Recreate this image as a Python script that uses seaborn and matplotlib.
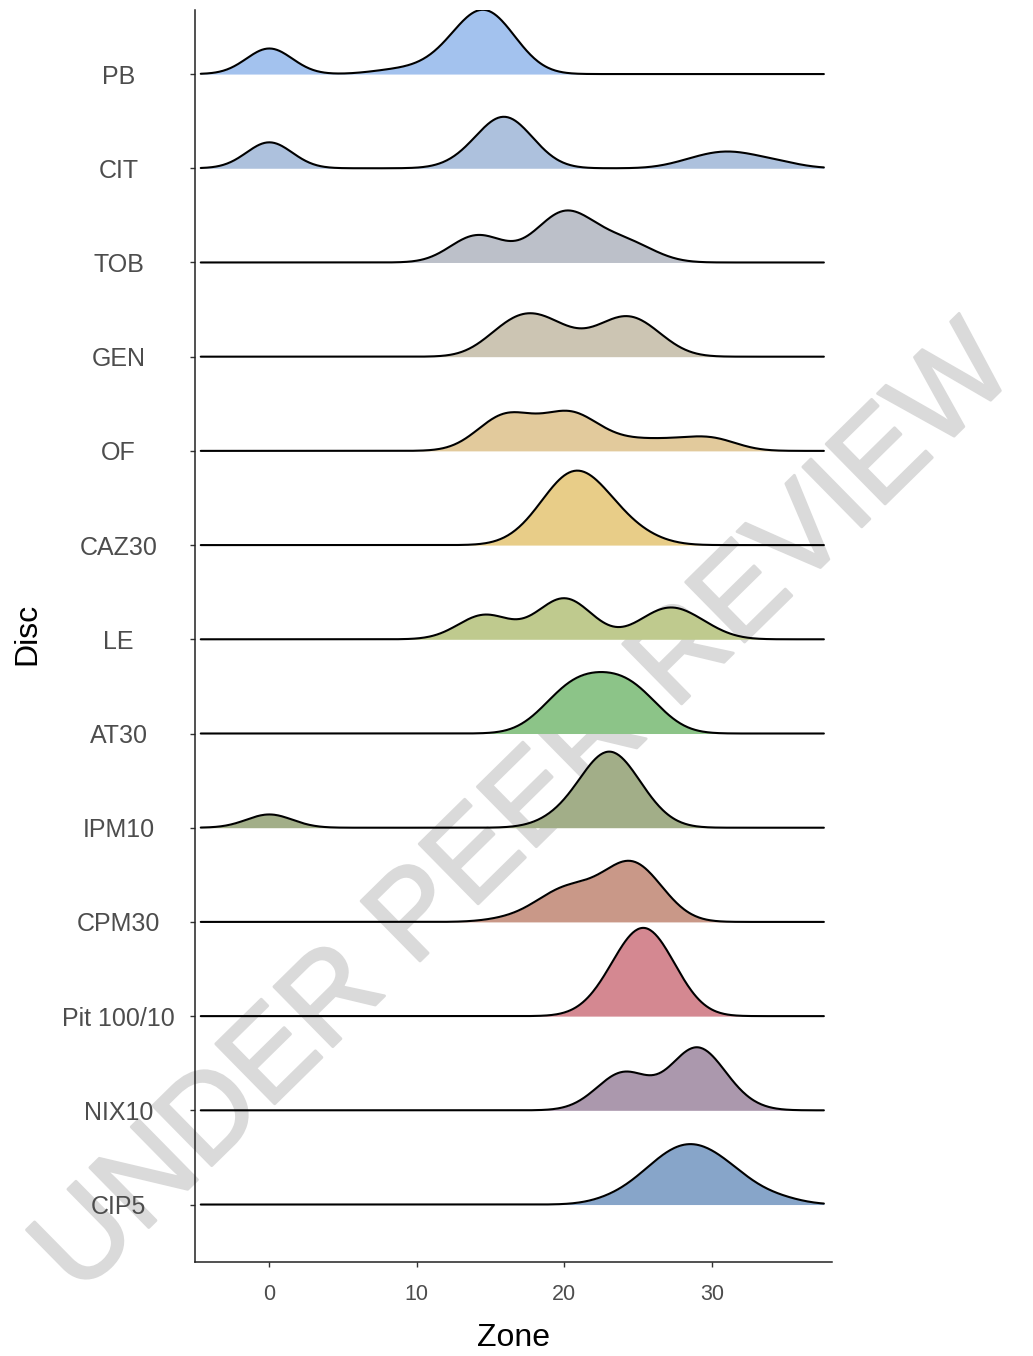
import numpy as np
import pandas as pd
import matplotlib
matplotlib.use("Agg")
import matplotlib.pyplot as plt
import matplotlib.transforms as mtransforms
import matplotlib.patheffects as pe
import seaborn as sns

# inhibition zone diameters (mm) per disc, one value per isolate
discs = ["PB", "CIT", "TOB", "GEN", "OF", "CAZ30", "LE", "AT30",
         "IPM10", "CPM30", "Pit 100/10", "NIX10", "CIP5"]

PB = [0, 0, 0, 0, 0, 0, 0, 0, 0, 8, 10, 11, 12, 12, 13, 13, 13, 13, 13,
      14, 14, 14, 14, 14, 14, 14, 14, 15, 15, 15, 15, 15, 15, 15, 15,
      16, 16, 16, 16, 16, 17, 17]
CIT = [0, 0, 0, 0, 0, 0, 0, 0, 0, 0, 13, 14, 14, 15, 15, 15, 15, 15, 15,
       16, 16, 16, 16, 16, 16, 16, 16, 16, 17, 17, 17, 17, 17, 18, 18,
       28, 29, 30, 30, 31, 31, 32, 32, 33, 34, 35]
TOB = [13, 13, 13, 14, 14, 14, 14, 15, 15, 15, 16, 18, 18, 19, 19, 19, 19, 19,
       20, 20, 20, 20, 20, 20, 20, 21, 21, 21, 21, 21, 22, 22, 22, 23, 23,
       24, 24, 24, 25, 25, 26]
GEN = [15, 15, 16, 16, 16, 16, 17, 17, 17, 17, 17, 18, 18, 18, 18, 18,
       19, 19, 19, 19, 20, 20, 20, 21, 22, 22, 23, 23, 23, 23,
       24, 24, 24, 24, 24, 25, 25, 25, 25, 25, 26, 26, 26, 27]
OF = [14, 15, 15, 15, 16, 16, 16, 16, 16, 17, 17, 17, 18, 18, 19, 19,
      20, 20, 20, 20, 20, 21, 21, 21, 21, 22, 22, 23, 24, 25, 26, 27, 28,
      29, 30, 30, 31]
CAZ30 = [17, 18, 18, 19, 19, 19, 19, 19, 20, 20, 20, 20, 20, 20, 20, 20,
         21, 21, 21, 21, 21, 21, 21, 21, 22, 22, 22, 22, 22, 22, 22,
         23, 23, 23, 23, 24, 24, 24, 25, 26]
LE = [13, 14, 14, 14, 15, 15, 15, 15, 16, 18, 19, 19, 19, 19,
      20, 20, 20, 20, 20, 20, 21, 21, 21, 21, 22, 25, 26, 26, 26,
      27, 27, 27, 27, 28, 28, 28, 29, 29, 30]
AT30 = [18, 19, 19, 19, 20, 20, 20, 20, 20, 20, 21, 21, 21, 21, 21, 21,
        22, 22, 22, 22, 22, 22, 23, 23, 23, 23, 23, 23, 24, 24, 24, 24, 24, 24,
        25, 25, 25, 25, 25, 25, 26, 26, 26, 27]
IPM10 = [0, 0, 0, 0, 0, 19, 20, 20, 21, 21, 21, 22, 22, 22, 22, 22, 22, 22, 22,
         23, 23, 23, 23, 23, 23, 23, 23, 23, 23, 23, 23,
         24, 24, 24, 24, 24, 24, 24, 24, 25, 25, 25, 25, 26, 26]
CPM30 = [16, 18, 18, 19, 19, 19, 20, 20, 20, 20, 20, 21, 21, 21, 21, 22, 22, 22,
         23, 23, 23, 23, 24, 24, 24, 24, 24, 24, 24, 24, 24,
         25, 25, 25, 25, 25, 25, 25, 25, 26, 26, 26, 26, 26, 27, 27]
PIT = [22, 23, 23, 23, 24, 24, 24, 24, 24, 24, 24,
       25, 25, 25, 25, 25, 25, 25, 25, 25, 25, 25,
       26, 26, 26, 26, 26, 26, 26, 26, 26, 26, 27, 27, 27, 27, 27, 27, 28, 28]
NIX10 = [22, 23, 23, 23, 24, 24, 24, 24, 24, 24, 24, 25, 25, 25, 25, 27,
         28, 28, 28, 28, 28, 28, 28, 29, 29, 29, 29, 29, 29, 29, 29, 29, 29,
         30, 30, 30, 30, 30, 30, 31, 31, 32]
CIP5 = [23, 24, 25, 25, 26, 26, 26, 26, 27, 27, 27, 27, 27,
        28, 28, 28, 28, 28, 28, 29, 29, 29, 29, 29, 29, 30, 30, 30, 30, 30,
        31, 31, 31, 31, 32, 32, 32, 33, 34, 35]

zones = [PB, CIT, TOB, GEN, OF, CAZ30, LE, AT30, IPM10, CPM30, PIT, NIX10, CIP5]

colors = ["#a3c2ee", "#adc1dd", "#bcc0c9", "#ccc5b3", "#e2ca9c", "#e8cd88",
          "#bfca8e", "#8cc488", "#a2ae88", "#c99888", "#d48891", "#ab98ad",
          "#87a5c9"]

df = pd.DataFrame({
    "Disc": np.concatenate([[d] * len(z) for d, z in zip(discs, zones)]),
    "Zone": np.concatenate(zones).astype(float),
})

BW = 1.55          # kernel sd, zone units
HEIGHT = 4.92      # row units per unit of density
X_RANGE = (-4.65, 37.6)

sns.set_style("ticks")
plt.rcParams["font.family"] = ["Liberation Sans", "DejaVu Sans"]

fig = plt.figure(figsize=(10.33, 13.56), dpi=100)
ax = fig.add_axes([195 / 1033, 94 / 1356, 636.7 / 1033, 1252 / 1356])
ax.patch.set_visible(False)

n = len(discs)
for i, disc in enumerate(discs):
    offset = n - 1 - i
    vals = df.loc[df["Disc"] == disc, "Zone"]
    tr = mtransforms.Affine2D().scale(1, HEIGHT).translate(0, offset) + ax.transData
    kw = dict(bw_method=BW / vals.std(), cut=30, clip=X_RANGE, gridsize=500,
              transform=tr, ax=ax)
    sns.kdeplot(x=vals, fill=True, color=colors[i], alpha=1, linewidth=0,
                zorder=2 + 2 * i, **kw)
    sns.kdeplot(x=vals, color="black", linewidth=1.5, zorder=3 + 2 * i, **kw)

ax.set_xlim(-5.04, 38.13)
ax.set_ylim(-0.61, 12.68)
ax.set_xticks([0, 10, 20, 30])
ax.set_yticks(range(n))
ax.set_yticklabels(discs[::-1])
for lab in ax.get_yticklabels():
    lab.set_horizontalalignment("center")
ax.set_xlabel("")
ax.set_ylabel("")

ax.tick_params(axis="y", length=3.6, width=1.0, pad=51.5, labelsize=18,
               labelcolor="#4d4d4d", color="#333333")
ax.tick_params(axis="x", length=3.6, width=1.0, pad=12, labelsize=15.5,
               labelcolor="#4d4d4d", color="#333333")
sns.despine(ax=ax)
for side in ["left", "bottom"]:
    ax.spines[side].set_linewidth(1.1)
    ax.spines[side].set_color("#222222")

fig.text(27 / 1033, 1 - 634 / 1356, "Disc", rotation=90, ha="center",
         va="center", fontsize=23, color="black")
fig.text(513 / 1033, 1 - 1338 / 1356, "Zone", ha="center", va="center",
         fontsize=23, color="black")

# review watermark sits behind the plot
fig.text(526 / 1033, 1 - 812 / 1356, "UNDER PEER REVIEW", rotation=44.5,
         rotation_mode="anchor", ha="center", va="center", fontsize=88,
         color="#dadada", zorder=-1,
         path_effects=[pe.withStroke(linewidth=2, foreground="#dadada")])

fig.savefig("out.png", dpi=100, facecolor="white")
plt.close(fig)
